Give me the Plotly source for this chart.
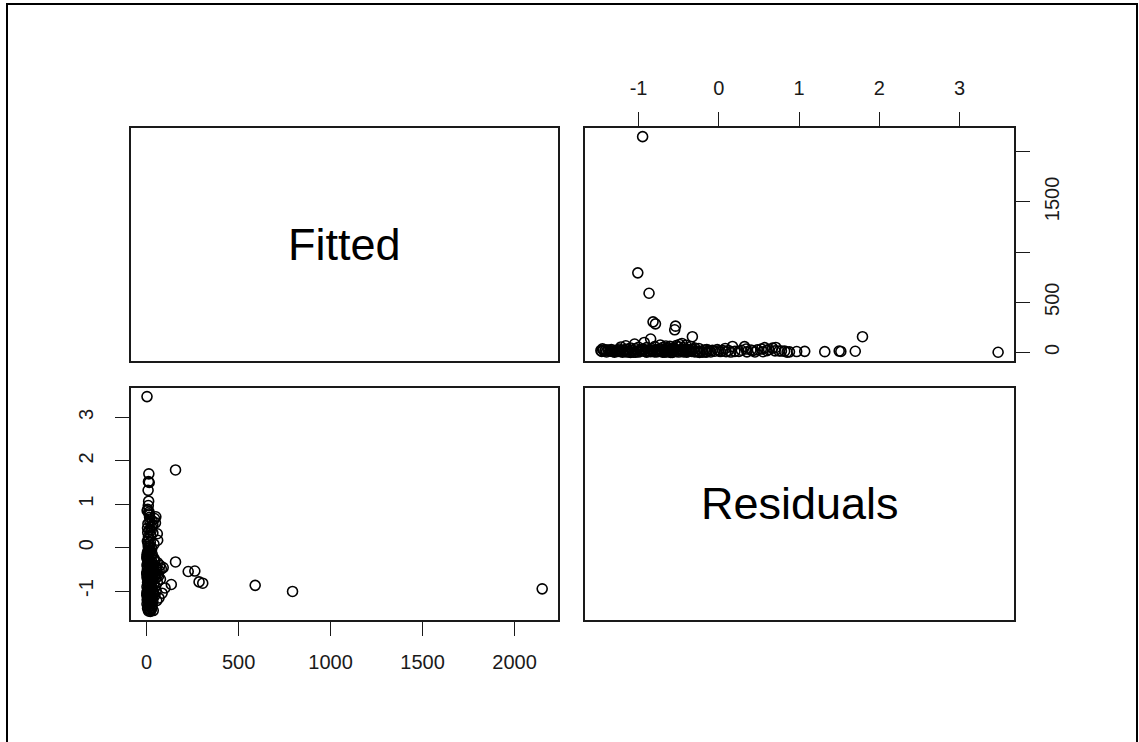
import plotly.graph_objects as go

# Model diagnostics: fitted values and residuals (paired, same order)
fitted = [
    2150, 793, 590, 305, 285, 262, 226, 157, 157, 134,
    100, 84, 67, 2,
    12, 10, 14, 8, 11, 9, 13, 6, 15, 50,
    43, 58, 60, 18, 34, 17, 34, 48, 16, 17,
    8, 20, 5, 25, 18, 30, 10, 22, 12, 28,
    4, 7, 26, 6, 40, 14, 11, 21, 3, 9,
    5, 18, 30, 3, 12, 25, 40, 6, 15, 28,
    45, 60, 2, 10, 20, 35, 50, 72, 90, 4,
    14, 24, 38, 55, 68, 80, 1, 9, 19, 32,
    46, 62, 3, 12, 22, 35, 50, 75, 5, 15,
    26, 40, 58, 2, 10, 20, 33, 48, 4, 13,
    24, 38, 52, 1, 8, 17, 28, 45, 3, 11,
    21, 34, 55, 2, 9, 18, 30, 5, 14, 25,
    36, 20, 10, 7, 16, 27, 44, 65, 8, 22,
    2, 6, 10, 15, 20, 25, 4, 8, 12, 18,
    3, 7, 11, 16, 22, 27, 1, 5, 9, 13,
    17, 23, 29, 2, 6, 10, 14, 19, 24, 31,
    1, 4, 8, 12, 16, 20, 26, 32, 38, 42,
]
residuals = [
    -0.95, -1.01, -0.87, -0.82, -0.79, -0.54, -0.55, 1.79, -0.33, -0.85,
    -0.93, -1.05, -1.16, 3.48,
    1.70, 1.52, 1.50, 1.32, 1.07, 0.97, 0.82, 0.88, 0.75, 0.71,
    0.67, 0.32, 0.17, 0.05, 0.34, 0.42, 0.53, 0.57, 0.70, 0.00,
    0.09, 0.12, 0.45, 0.40, 0.60, 0.62, 0.25, 0.28, -0.05, -0.02,
    0.15, 0.55, 0.48, 0.35, 0.08, 0.78, 0.20, -0.08, 0.85, 0.02,
    -0.10, -0.12, -0.15, -0.20, -0.22, -0.18, -0.25, -0.30, -0.28, -0.32,
    -0.30, -0.35, -0.40, -0.38, -0.42, -0.40, -0.44, -0.41, -0.46, -0.50,
    -0.52, -0.48, -0.55, -0.50, -0.53, -0.49, -0.60, -0.62, -0.58, -0.60,
    -0.64, -0.61, -0.70, -0.72, -0.68, -0.74, -0.70, -0.73, -0.80, -0.82,
    -0.78, -0.84, -0.80, -0.90, -0.92, -0.88, -0.94, -0.90, -1.00, -1.02,
    -0.98, -1.04, -1.00, -1.10, -1.12, -1.08, -1.14, -1.10, -1.20, -1.22,
    -1.18, -1.24, -1.22, -1.30, -1.32, -1.28, -1.34, -1.40, -1.42, -1.38,
    -1.45, -1.47, -1.46, -0.15, -0.45, -0.65, -0.57, -0.66, -0.85, -0.95,
    -0.16, -0.26, -0.34, -0.36, -0.46, -0.56, -0.66, -0.76, -0.86, -0.96,
    -1.06, -1.16, -1.26, -1.36, -1.44, -1.41, -0.24, -0.44, -0.54, -0.64,
    -0.74, -0.84, -0.94, -1.04, -1.14, -1.24, -1.34, -1.30, -1.26, -1.16,
    -0.58, -0.68, -0.78, -0.88, -0.98, -1.08, -0.36, -0.46, -0.56, -0.66,
]

variable_names = ["Fitted", "Residuals"]
fitted_ticks = [0, 500, 1000, 1500, 2000]
fitted_tick_text_x = ["0", "500", "1000", "1500", "2000"]
fitted_tick_text_y = ["0", "500", "", "1500", ""]
resid_ticks = [-1, 0, 1, 2, 3]
resid_tick_text = ["-1", "0", "1", "2", "3"]

W, H = 1139, 742
FONT = "Liberation Sans, Arial, Helvetica, sans-serif"
INK = "#1a1a1a"

# panel positions in pixels
cols = [(131, 558), (585, 1014)]
rows = [(128, 361), (388, 620)]


def xdom(c):
    return [c[0] / W, c[1] / W]


def ydom(r):
    return [1 - r[1] / H, 1 - r[0] / H]


def padded(vals):
    lo, hi = min(vals), max(vals)
    d = (hi - lo) * 0.04
    return [lo - d, hi + d]


fit_range = padded(fitted)
res_range = padded(residuals)

marker = dict(symbol="circle-open", size=10, color="black", line=dict(width=1.6, color="black"))

fig = go.Figure()
# diagonal panels (labels only)
fig.add_trace(go.Scatter(x=[], y=[], xaxis="x", yaxis="y", showlegend=False))
fig.add_trace(go.Scatter(x=[], y=[], xaxis="x4", yaxis="y4", showlegend=False))
# upper-right: residuals vs fitted
fig.add_trace(go.Scatter(x=residuals, y=fitted, mode="markers", marker=marker,
                         xaxis="x2", yaxis="y2", showlegend=False, hoverinfo="skip"))
# lower-left: fitted vs residuals
fig.add_trace(go.Scatter(x=fitted, y=residuals, mode="markers", marker=marker,
                         xaxis="x3", yaxis="y3", showlegend=False, hoverinfo="skip"))

box = dict(showline=True, mirror=True, linecolor=INK, linewidth=1.5,
           showgrid=False, zeroline=False, fixedrange=True)
tickstyle = dict(ticks="outside", ticklen=14, tickwidth=1.3, tickcolor=INK,
                 tickfont=dict(family=FONT, size=20, color=INK))
noticks = dict(showticklabels=False, ticks="")

layout = dict(
    width=W, height=H,
    margin=dict(l=0, r=0, t=0, b=0),
    paper_bgcolor="white", plot_bgcolor="white",
    showlegend=False,
    # top-left
    xaxis=dict(domain=xdom(cols[0]), anchor="y", range=fit_range, **box, **noticks),
    yaxis=dict(domain=ydom(rows[0]), anchor="x", range=fit_range, **box, **noticks),
    # top-right
    xaxis2=dict(domain=xdom(cols[1]), anchor="y2", range=res_range, side="top",
                tickvals=resid_ticks, ticktext=resid_tick_text, ticklabelstandoff=9,
                **box, **tickstyle),
    yaxis2=dict(domain=ydom(rows[0]), anchor="x2", range=fit_range, side="right",
                tickvals=fitted_ticks, ticktext=fitted_tick_text_y, tickangle=-90,
                ticklabelstandoff=5, **box, **tickstyle),
    # bottom-left
    xaxis3=dict(domain=xdom(cols[0]), anchor="y3", range=fit_range,
                tickvals=fitted_ticks, ticktext=fitted_tick_text_x, ticklabelstandoff=9,
                **box, **tickstyle),
    yaxis3=dict(domain=ydom(rows[1]), anchor="x3", range=res_range,
                tickvals=resid_ticks, ticktext=resid_tick_text, tickangle=-90,
                ticklabelstandoff=14, **box, **tickstyle),
    # bottom-right
    xaxis4=dict(domain=xdom(cols[1]), anchor="y4", range=res_range, **box, **noticks),
    yaxis4=dict(domain=ydom(rows[1]), anchor="x4", range=res_range, **box, **noticks),
)
fig.update_layout(**layout)

# variable names on the diagonal
for i, name in enumerate(variable_names):
    c, r = cols[i], rows[i]
    fig.add_annotation(x=(c[0] + c[1]) / 2 / W, y=1 - (r[0] + r[1]) / 2 / H,
                       xref="paper", yref="paper", text=name, showarrow=False,
                       font=dict(family=FONT, size=45, color="black"),
                       xanchor="center", yanchor="middle")

# outer frame
fig.add_shape(type="rect", xref="paper", yref="paper",
              x0=7 / W, x1=1137 / W, y0=-0.01, y1=1 - 4 / H,
              line=dict(color="black", width=2), fillcolor="rgba(0,0,0,0)")

fig.write_html("out.html")
